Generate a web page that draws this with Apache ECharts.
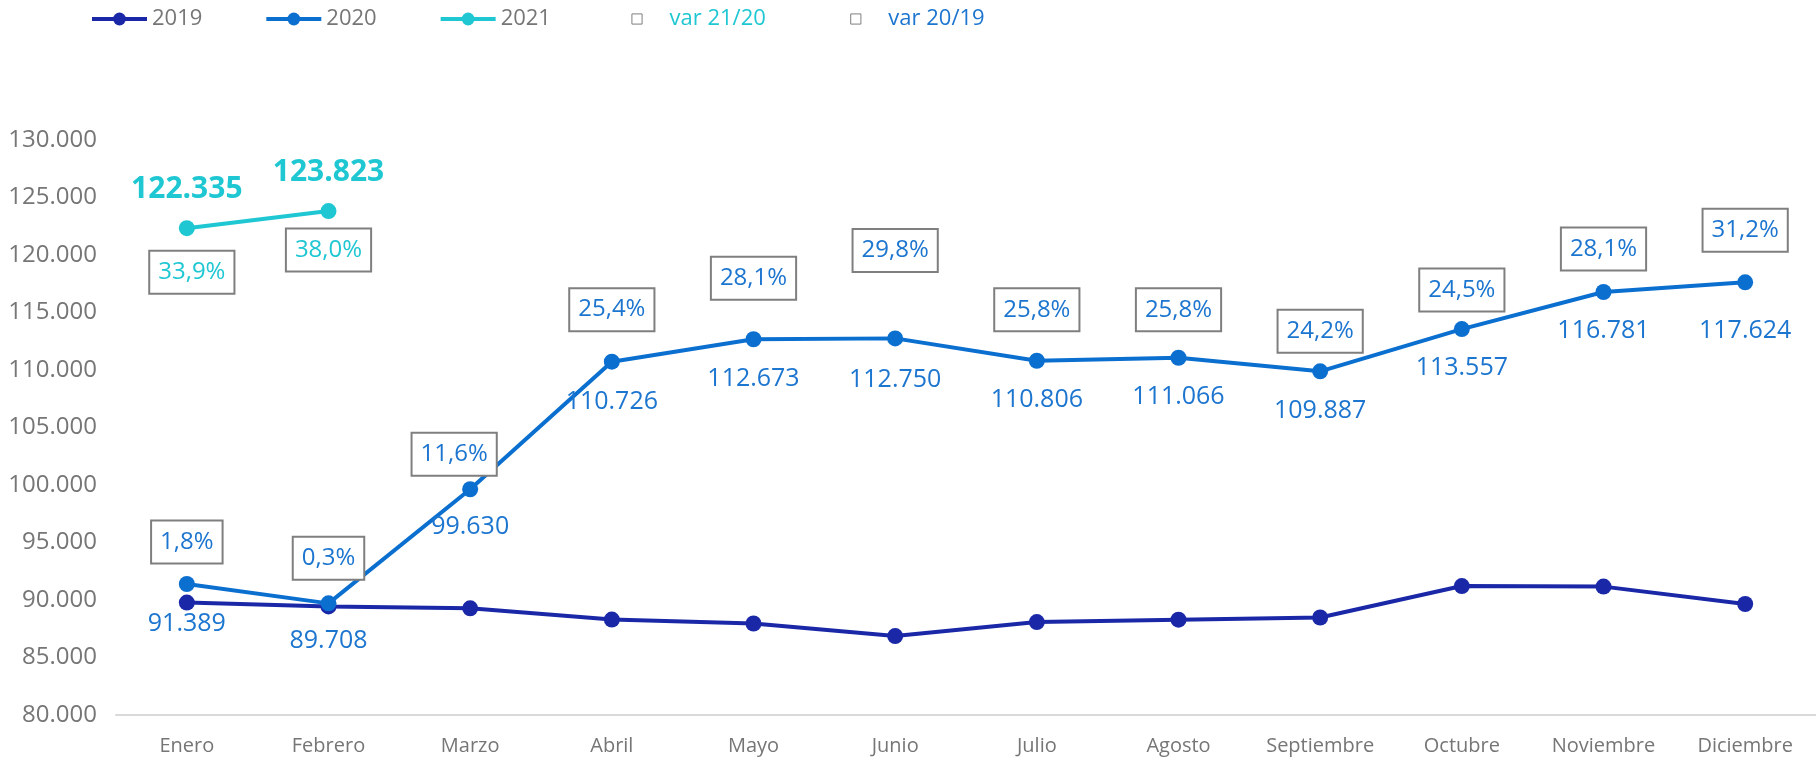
<!DOCTYPE html>
<html>
<head>
<meta charset="utf-8">
<script src="https://cdn.jsdelivr.net/npm/echarts@6/dist/echarts.min.js"></script>
<style>
  html, body { margin: 0; padding: 0; background: #fff; }
  #chart { width: 1816px; height: 759px; }
</style>
</head>
<body>
<div id="chart"></div>
<script>
// datos del gráfico
var meses = ['Enero', 'Febrero', 'Marzo', 'Abril', 'Mayo', 'Junio', 'Julio', 'Agosto', 'Septiembre', 'Octubre', 'Noviembre', 'Diciembre'];
var datos2019 = [89773, 89440, 89274, 88298, 87957, 86864, 88081, 88288, 88476, 91211, 91164, 89652];
var datos2020 = [91389, 89708, 99630, 110726, 112673, 112750, 110806, 111066, 109887, 113557, 116781, 117624];
var datos2021 = [122335, 123823];
var var2019 = [1.8, 0.3, 11.6, 25.4, 28.1, 29.8, 25.8, 25.8, 24.2, 24.5, 28.1, 31.2];
var var2120 = [33.9, 38.0];
var ejeMin = 80000, ejeMax = 130000, ejePaso = 5000;

// desplazamiento de las etiquetas (como en el excel, colocadas a mano)
var offVar2019 = [[0, -42], [0, -45], [-16, -35], [0, -52], [0, -61], [0, -88], [0, -51], [0, -48], [0, -40], [0, -39], [0, -43], [0, -52]];
var offVal2020 = [40, 38, 38, 40, 40, 41, 39, 39, 40, 39, 39, 49];
var offVar2120 = [[5, 44], [0, 39]];

var cAzulOsc = '#1a28a8', cAzul = '#0b6fd0', cCian = '#1fc7d3';
var cTexto = '#1c75cf', cGris = '#767676';
var fuente = 'Open Sans';
// cuadradito hueco centrado en el hueco del icono
var iconoCaja = 'path://M-22 0M32 10M0 0H10V10H0Z';

function miles(v) {
  return String(v).replace(/\B(?=(\d{3})+(?!\d))/g, '.');
}
function pct(v) {
  return v.toFixed(1).replace('.', ',') + '%';
}

var cajaVar = {
  show: true,
  position: 'inside',
  fontFamily: fuente,
  fontSize: 24,
  backgroundColor: '#fff',
  borderColor: '#7f7f7f',
  borderWidth: 2,
  padding: [9, 8, 8, 8]
};

var leyendaBase = {
  top: 8,
  padding: 0,
  itemWidth: 55,
  itemHeight: 16,
  itemGap: 62,
  lineStyle: { width: 4 },
  textStyle: { fontFamily: fuente, fontSize: 22, color: cGris }
};

var chart = echarts.init(document.getElementById('chart'));
chart.setOption({
  animation: false,
  textStyle: { fontFamily: fuente },
  legend: [
    Object.assign({}, leyendaBase, {
      left: 90,
      data: ['2019', '2020', '2021']
    }),
    Object.assign({}, leyendaBase, {
      left: 609,
      data: [
        { name: 'var 21/20', icon: iconoCaja, itemStyle: { color: '#fff', borderColor: '#7f7f7f', borderWidth: 1 }, textStyle: { color: cCian } },
        { name: 'var 20/19', icon: iconoCaja, itemStyle: { color: '#fff', borderColor: '#7f7f7f', borderWidth: 1 }, textStyle: { color: cTexto } }
      ]
    })
  ],
  grid: { left: 116, right: -19, top: 140, bottom: 44, containLabel: false },
  xAxis: {
    type: 'category',
    data: meses,
    axisLine: { lineStyle: { color: '#d9d9d9', width: 2 } },
    axisTick: { show: false },
    axisLabel: { interval: 0, margin: 21, fontSize: 20, color: cGris, fontFamily: fuente },
    splitLine: { show: false }
  },
  yAxis: {
    type: 'value',
    min: ejeMin,
    max: ejeMax,
    interval: ejePaso,
    axisLine: { show: false },
    axisTick: { show: false },
    splitLine: { show: false },
    axisLabel: { margin: 19, fontSize: 24, color: cGris, fontFamily: fuente, formatter: miles }
  },
  series: [
    {
      name: '2019',
      type: 'line',
      data: datos2019,
      symbol: 'circle',
      symbolSize: 16,
      color: cAzulOsc,
      lineStyle: { width: 4, color: cAzulOsc },
      itemStyle: { color: cAzulOsc }
    },
    {
      name: '2020',
      type: 'line',
      data: datos2020.map(function (v, i) {
        return { value: v, label: { offset: [0, offVal2020[i]] } };
      }),
      symbol: 'circle',
      symbolSize: 16,
      color: cAzul,
      lineStyle: { width: 4, color: cAzul },
      itemStyle: { color: cAzul },
      label: {
        show: true,
        position: 'inside',
        fontFamily: fuente,
        fontSize: 25,
        color: cTexto,
        formatter: function (p) { return miles(p.value); }
      },
      z: 3
    },
    {
      name: '2021',
      type: 'line',
      data: datos2021,
      symbol: 'circle',
      symbolSize: 16,
      color: cCian,
      lineStyle: { width: 4, color: cCian },
      itemStyle: { color: cCian },
      label: {
        show: true,
        position: 'inside',
        offset: [0, -39],
        fontFamily: fuente,
        fontSize: 30,
        fontWeight: 'bold',
        color: cCian,
        formatter: function (p) { return miles(p.value); }
      },
      z: 3
    },
    {
      name: 'var 21/20',
      type: 'line',
      data: datos2021.map(function (v, i) {
        return { value: v, label: { offset: offVar2120[i] } };
      }),
      symbol: 'circle',
      symbolSize: 2,
      lineStyle: { width: 0, opacity: 0 },
      itemStyle: { color: 'rgba(0,0,0,0)' },
      label: Object.assign({}, cajaVar, {
        color: cCian,
        formatter: function (p) { return pct(var2120[p.dataIndex]); }
      }),
      silent: true,
      z: 4
    },
    {
      name: 'var 20/19',
      type: 'line',
      data: datos2020.map(function (v, i) {
        return { value: v, label: { offset: offVar2019[i] } };
      }),
      symbol: 'circle',
      symbolSize: 2,
      lineStyle: { width: 0, opacity: 0 },
      itemStyle: { color: 'rgba(0,0,0,0)' },
      label: Object.assign({}, cajaVar, {
        color: cTexto,
        formatter: function (p) { return pct(var2019[p.dataIndex]); }
      }),
      silent: true,
      z: 4
    }
  ]
});
</script>
</body>
</html>
